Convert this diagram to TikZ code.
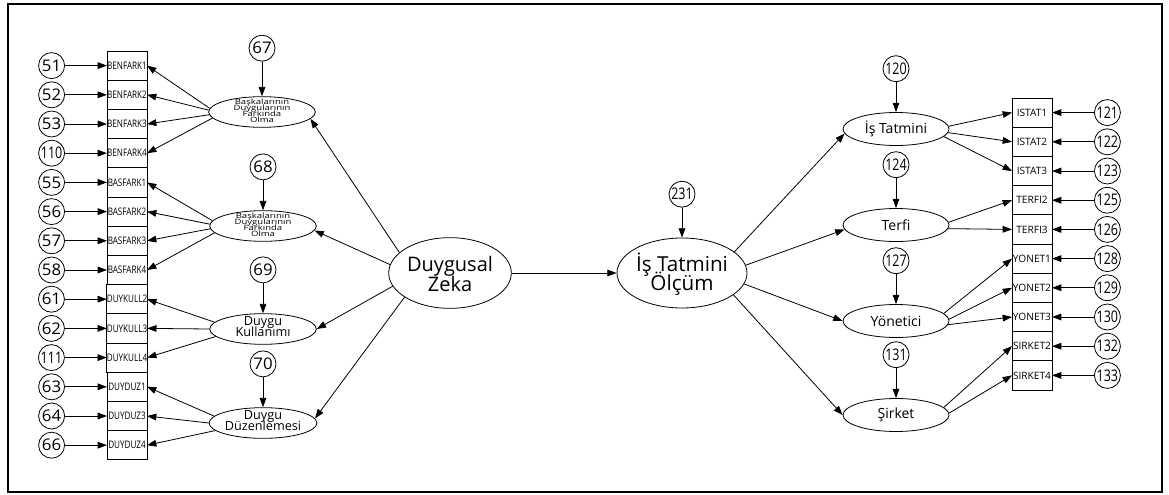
\documentclass[tikz,border=0pt]{standalone}
\usepackage{fontspec}
\setmainfont{Open Sans}
\newfontfamily\boxfont[FakeStretch=0.78]{Open Sans}
\newfontfamily\numfont[FakeStretch=1.05]{Open Sans}
\newfontfamily\numnarrow[FakeStretch=0.78]{Open Sans}
\newfontfamily\widefont[FakeStretch=1.3]{Open Sans}
\usepackage{array}
\usepackage{tikz}
\usetikzlibrary{shapes.geometric,arrows.meta,positioning}

% multi-line text at a fixed line pitch that does not stretch the ellipse around it
\newcommand{\stacked}[2][-0.2em]{\smash{\raisebox{#1}{\begin{tabular}{@{}>{\setbox0\hbox\bgroup}c<{\egroup\ht0=0pt\dp0=0pt\box0}@{}}#2\end{tabular}}}}

\tikzset{
  indbox/.style={draw, line width=0.6pt, minimum width=30pt, minimum height=21.9pt, inner sep=0pt, outer sep=0pt, font=\boxfont\fontsize{7.8}{8}\selectfont},
  indboxr/.style={indbox, font=\fontsize{7.6}{8}\selectfont},
  errc/.style={draw, circle, line width=0.6pt, minimum size=19.5pt, inner sep=0pt, font=\numfont\fontsize{12}{12}\selectfont},
  errc3/.style={errc, font=\numnarrow\fontsize{12}{12}\selectfont},
  latent/.style={draw, ellipse, line width=0.6pt, inner sep=0pt},
  latsmall/.style={latent, minimum width=80pt, minimum height=23pt},
  latright/.style={latent, minimum width=79.5pt, minimum height=24.75pt, font=\fontsize{10.5}{11}\selectfont},
  semarrow/.style={-{Triangle[length=7pt,width=5pt]}, line width=0.6pt},
}

\begin{document}
\begin{tikzpicture}[x=0.75pt, y=-0.75pt]
  \useasboundingbox (0,0) rectangle (1169,495);
  \draw[line width=1.5pt] (8,4) rectangle (1162,492);

  % Second-order factors
  \node[latent, minimum width=92pt, minimum height=53pt, font=\fontsize{15}{15}\selectfont] (duy_zeka) at (450,273) {\stacked[-0.45em]{Duygusal\\Zeka}};
  \node[latent, minimum width=91.5pt, minimum height=52.5pt, font=\fontsize{15.5}{14}\selectfont] (is_olcum) at (682,273) {\stacked[-0.45em]{İş Tatmini\\Ölçüm}};

  % Left first-order factors
  \node[latsmall, font=\widefont\fontsize{5.5}{4.6}\selectfont] (bas_fark1) at (262,112) {\stacked[-0.3em]{Başkalarının\\Duygularının\\Farkında\\Olma}};
  \node[latsmall, font=\widefont\fontsize{5.5}{4.6}\selectfont] (bas_fark2) at (263,226) {\stacked[-0.3em]{Başkalarının\\Duygularının\\Farkında\\Olma}};
  \node[latsmall, font=\fontsize{9.5}{8}\selectfont] (duy_kull) at (263,329) {\stacked{Duygu\\Kullanımı}};
  \node[latsmall, font=\fontsize{9.5}{8}\selectfont] (duy_duz) at (263,423) {\stacked{Duygu\\Düzenlemesi}};

  % Right first-order factors
  \node[latright] (is_tat) at (896,129) {İş Tatmini};
  \node[latright] (terfi) at (896,225) {Terfi};
  \node[latright] (yonetici) at (896,321) {Yönetici};
  \node[latright] (sirket) at (896,415) {Şirket};

  % Left indicators
  \node[indbox] (benfark1) at (127,65.6) {BENFARK1};
  \node[indbox, below=0pt of benfark1] (benfark2) {BENFARK2};
  \node[indbox, below=0pt of benfark2] (benfark3) {BENFARK3};
  \node[indbox, below=0pt of benfark3] (benfark4) {BENFARK4};
  \node[indbox, below=0pt of benfark4] (basfark1) {BASFARK1};
  \node[indbox, below=0pt of basfark1] (basfark2) {BASFARK2};
  \node[indbox, below=0pt of basfark2] (basfark3) {BASFARK3};
  \node[indbox, below=0pt of basfark3] (basfark4) {BASFARK4};
  \node[indbox, below=0pt of basfark4] (duykull2) {DUYKULL2};
  \node[indbox, below=0pt of duykull2] (duykull3) {DUYKULL3};
  \node[indbox, below=0pt of duykull3] (duykull4) {DUYKULL4};
  \node[indbox, below=0pt of duykull4] (duyduz1) {DUYDUZ1};
  \node[indbox, below=0pt of duyduz1] (duyduz3) {DUYDUZ3};
  \node[indbox, below=0pt of duyduz3] (duyduz4) {DUYDUZ4};

  % Right indicators
  \node[indboxr] (istat1) at (1032,112.6) {ISTAT1};
  \node[indboxr, below=0pt of istat1] (istat2) {ISTAT2};
  \node[indboxr, below=0pt of istat2] (istat3) {ISTAT3};
  \node[indboxr, below=0pt of istat3] (terfi2) {TERFI2};
  \node[indboxr, below=0pt of terfi2] (terfi3) {TERFI3};
  \node[indboxr, below=0pt of terfi3] (yonet1) {YONET1};
  \node[indboxr, below=0pt of yonet1] (yonet2) {YONET2};
  \node[indboxr, below=0pt of yonet2] (yonet3) {YONET3};
  \node[indboxr, below=0pt of yonet3] (sirket2) {SIRKET2};
  \node[indboxr, below=0pt of sirket2] (sirket4) {SIRKET4};

  % Error terms, left column
  \node[errc, left=31.5pt of benfark1] (e51) {51};
  \node[errc, left=31.5pt of benfark2] (e52) {52};
  \node[errc, left=31.5pt of benfark3] (e53) {53};
  \node[errc3, left=31.5pt of benfark4] (e110) {110};
  \node[errc, left=31.5pt of basfark1] (e55) {55};
  \node[errc, left=31.5pt of basfark2] (e56) {56};
  \node[errc, left=31.5pt of basfark3] (e57) {57};
  \node[errc, left=31.5pt of basfark4] (e58) {58};
  \node[errc, left=31.5pt of duykull2] (e61) {61};
  \node[errc, left=31.5pt of duykull3] (e62) {62};
  \node[errc3, left=31.5pt of duykull4] (e111) {111};
  \node[errc, left=31.5pt of duyduz1] (e63) {63};
  \node[errc, left=31.5pt of duyduz3] (e64) {64};
  \node[errc, left=31.5pt of duyduz4] (e66) {66};

  % Error terms, right column
  \node[errc3, right=31.5pt of istat1] (e121) {121};
  \node[errc3, right=31.5pt of istat2] (e122) {122};
  \node[errc3, right=31.5pt of istat3] (e123) {123};
  \node[errc3, right=31.5pt of terfi2] (e125) {125};
  \node[errc3, right=31.5pt of terfi3] (e126) {126};
  \node[errc3, right=31.5pt of yonet1] (e128) {128};
  \node[errc3, right=31.5pt of yonet2] (e129) {129};
  \node[errc3, right=31.5pt of yonet3] (e130) {130};
  \node[errc3, right=31.5pt of sirket2] (e132) {132};
  \node[errc3, right=31.5pt of sirket4] (e133) {133};

  % Disturbances of the factors
  \node[errc, above=26pt of bas_fark1] (e67) {67};
  \node[errc, above=22.5pt of bas_fark2] (e68) {68};
  \node[errc, above=22.5pt of duy_kull] (e69) {69};
  \node[errc, above=22.5pt of duy_duz] (e70) {70};
  \node[errc3, above=22.5pt of is_olcum] (e231) {231};
  \node[errc3, above=22.5pt of is_tat] (e120) {120};
  \node[errc3, above=22.5pt of terfi] (e124) {124};
  \node[errc3, above=22.5pt of yonetici] (e127) {127};
  \node[errc3, above=22.5pt of sirket] (e131) {131};

  % Structural paths
  \draw[semarrow] (duy_zeka.158) -- (bas_fark1.352);
  \draw[semarrow] (duy_zeka.172) -- (bas_fark2.355);
  \draw[semarrow] (duy_zeka.193) -- (duy_kull.east);
  \draw[semarrow] (duy_zeka.208) -- (duy_duz.5);
  \draw[semarrow] (duy_zeka.east) -- (is_olcum.west);
  \draw[semarrow] (is_olcum.22) -- (is_tat.185);
  \draw[semarrow] (is_olcum.7) -- (terfi.185);
  \draw[semarrow] (is_olcum.350) -- (yonetici.west);
  \draw[semarrow] (is_olcum.337) -- (sirket.west);

  % Disturbance arrows
  \draw[semarrow] (e67) -- (bas_fark1);
  \draw[semarrow] (e68) -- (bas_fark2);
  \draw[semarrow] (e69) -- (duy_kull);
  \draw[semarrow] (e70) -- (duy_duz);
  \draw[semarrow] (e231) -- (is_olcum);
  \draw[semarrow] (e120) -- (is_tat);
  \draw[semarrow] (e124) -- (terfi);
  \draw[semarrow] (e127) -- (yonetici);
  \draw[semarrow] (e131) -- (sirket);

  % Loadings, left
  \draw[semarrow] (bas_fark1.176) -- (benfark1.east);
  \draw[semarrow] (bas_fark1.178) -- (benfark2.east);
  \draw[semarrow] (bas_fark1.183) -- (benfark3.east);
  \draw[semarrow] (bas_fark1.187) -- (benfark4.east);
  \draw[semarrow] (bas_fark2.174) -- (basfark1.east);
  \draw[semarrow] (bas_fark2.178) -- (basfark2.east);
  \draw[semarrow] (bas_fark2.183) -- (basfark3.east);
  \draw[semarrow] (bas_fark2.188) -- (basfark4.east);
  \draw[semarrow] (duy_kull.172) -- (duykull2.east);
  \draw[semarrow] (duy_kull.west) -- (duykull3.east);
  \draw[semarrow] (duy_kull.189) -- (duykull4.east);
  \draw[semarrow] (duy_duz.172) -- (duyduz1.east);
  \draw[semarrow] (duy_duz.west) -- (duyduz3.east);
  \draw[semarrow] (duy_duz.189) -- (duyduz4.east);

  % Loadings, right
  \draw[semarrow] (is_tat.3) -- (istat1.west);
  \draw[semarrow] (is_tat.356) -- (istat2.west);
  \draw[semarrow] (is_tat.351) -- (istat3.west);
  \draw[semarrow] (terfi.3) -- (terfi2.west);
  \draw[semarrow] (terfi.356) -- (terfi3.west);
  \draw[semarrow] (yonetici.9) -- (yonet1.west);
  \draw[semarrow] (yonetici.2) -- (yonet2.west);
  \draw[semarrow] (yonetici.356) -- (yonet3.west);
  \draw[semarrow] (sirket.9) -- (sirket2.west);
  \draw[semarrow] (sirket.2) -- (sirket4.west);

  % Error arrows into indicators
  \draw[semarrow] (e51) -- (benfark1);
  \draw[semarrow] (e52) -- (benfark2);
  \draw[semarrow] (e53) -- (benfark3);
  \draw[semarrow] (e110) -- (benfark4);
  \draw[semarrow] (e55) -- (basfark1);
  \draw[semarrow] (e56) -- (basfark2);
  \draw[semarrow] (e57) -- (basfark3);
  \draw[semarrow] (e58) -- (basfark4);
  \draw[semarrow] (e61) -- (duykull2);
  \draw[semarrow] (e62) -- (duykull3);
  \draw[semarrow] (e111) -- (duykull4);
  \draw[semarrow] (e63) -- (duyduz1);
  \draw[semarrow] (e64) -- (duyduz3);
  \draw[semarrow] (e66) -- (duyduz4);
  \draw[semarrow] (e121) -- (istat1);
  \draw[semarrow] (e122) -- (istat2);
  \draw[semarrow] (e123) -- (istat3);
  \draw[semarrow] (e125) -- (terfi2);
  \draw[semarrow] (e126) -- (terfi3);
  \draw[semarrow] (e128) -- (yonet1);
  \draw[semarrow] (e129) -- (yonet2);
  \draw[semarrow] (e130) -- (yonet3);
  \draw[semarrow] (e132) -- (sirket2);
  \draw[semarrow] (e133) -- (sirket4);
\end{tikzpicture}
\end{document}
